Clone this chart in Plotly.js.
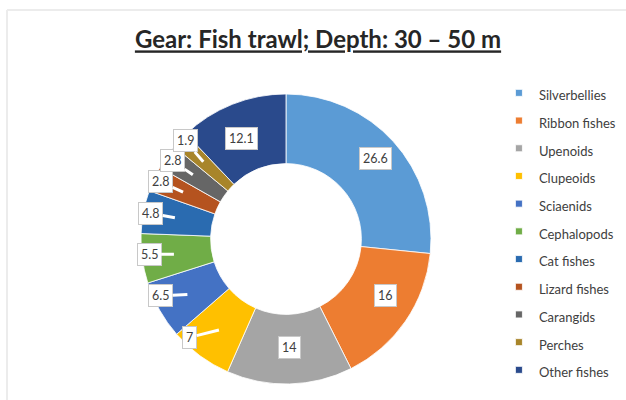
<!DOCTYPE html>
<html>
<head>
<meta charset="utf-8">
<script src="https://cdn.plot.ly/plotly-3.0.1.min.js"></script>
<style>
html,body{margin:0;padding:0;background:#fff;}
#chart{width:626px;height:400px;}
.legendpie{ d: path("M3.5,3.5H-3.5V-3.5H3.5Z"); }
</style>
</head>
<body>
<div id="chart"></div>
<script>
// ---- data ----
const categories = ["Silverbellies","Ribbon fishes","Upenoids","Clupeoids","Sciaenids","Cephalopods","Cat fishes","Lizard fishes","Carangids","Perches","Other fishes"];
const shares = [26.6, 16, 14, 7, 6.5, 5.5, 4.8, 2.8, 2.8, 1.9, 12.1];
const sliceColors = ["#5B9BD5","#ED7D31","#A5A5A5","#FFC000","#4472C4","#70AD47","#2A6BB0","#B5531F","#666666","#A8852A","#2A4A8C"];
const titleText = "Gear: Fish trawl; Depth: 30 – 50 m";

// ---- geometry of the pie (layout, not data) ----
const W = 626, H = 400;
const dom = {x:[0.2252, 0.6885], y:[0.04, 0.765]};
const cx = (dom.x[0]+dom.x[1])/2*W;           // px from left
const cyB = (dom.y[0]+dom.y[1])/2*H;          // px from bottom
const R = Math.min((dom.x[1]-dom.x[0])*W, (dom.y[1]-dom.y[0])*H)/2;
const holeFrac = 0.52;

const labelFont = {family:"Lato, 'Open Sans', sans-serif", size:12.5, color:"#404040"};

// label annotations computed from the values
const total = shares.reduce((a,b)=>a+b,0);
let cum = 0;
const annotations = [];
let prevBoxY = null; // screen px (y downward) for small labels
shares.forEach((v,i)=>{
  const mid = (cum + v/2)/total*2*Math.PI; cum += v;
  const at = (ang, r)=>{
    const s = Math.sin(ang), c = Math.cos(ang);
    return {x:(cx + r*s)/W, y:(cyB + r*c)/H, px:cx + r*s, py:H-(cyB + r*c)};
  };
  const base = {text:String(v), font:labelFont, bgcolor:"#ffffff", bordercolor:"#c8c8c8",
                borderwidth:1, borderpad:3, xref:"paper", yref:"paper"};
  if (v >= 10) {
    const p = at(mid, R*0.83);
    annotations.push(Object.assign(base,{x:p.x, y:p.y, showarrow:false}));
  } else {
    const tip = at(mid, R*0.78);
    const rot = Math.max(0, -10*Math.cos(mid))*Math.PI/180;
    const box = at(mid + rot, R*0.95);
    let by = box.py;
    if (prevBoxY !== null && by > prevBoxY - 20) by = prevBoxY - 20;
    prevBoxY = by;
    annotations.push(Object.assign(base,{x:tip.x, y:tip.y, showarrow:true,
      ax: box.px - tip.px, ay: by - tip.py, arrowhead:0, arrowwidth:3,
      arrowcolor:"#ffffff", standoff:0, startstandoff:0}));
  }
});

const trace = {
  type:"pie",
  labels: categories.map(n=>'<span style="font-size:13px">'+n+'</span>'),
  values: shares,
  hole: holeFrac,
  sort:false,
  direction:"clockwise",
  rotation:0,
  textinfo:"none",
  marker:{colors:sliceColors, line:{color:"#ffffff", width:0.8}},
  domain:dom,
  hoverinfo:"label+value"
};

const layout = {
  width:W, height:H,
  margin:{l:0,r:0,t:0,b:0},
  paper_bgcolor:"#ffffff",
  showlegend:true,
  title:{text:"<u><b>"+titleText+"</b></u>", x:0.508, xanchor:"center", xref:"paper",
         y:0.9, yref:"container", yanchor:"middle",
         font:{family:"Lato, 'Open Sans', sans-serif", size:24, color:"#262626"}},
  legend:{x:0.797, xanchor:"left", y:0.815, yanchor:"top",
          font:{family:"Lato, 'Open Sans', sans-serif", size:19, color:"#404040"},
          bgcolor:"rgba(0,0,0,0)", traceorder:"normal"},
  annotations: annotations,
  shapes:[
    {type:"line", xref:"paper", yref:"paper", x0:7/W, x1:1, y0:1-10/H, y1:1-10/H, line:{color:"#ececec", width:2}},
    {type:"line", xref:"paper", yref:"paper", x0:7/W, x1:7/W, y0:0, y1:1-10/H, line:{color:"#ececec", width:2}}
  ]
};

Plotly.newPlot("chart",[trace],layout,{displayModeBar:false, staticPlot:true});
</script>
</body>
</html>
